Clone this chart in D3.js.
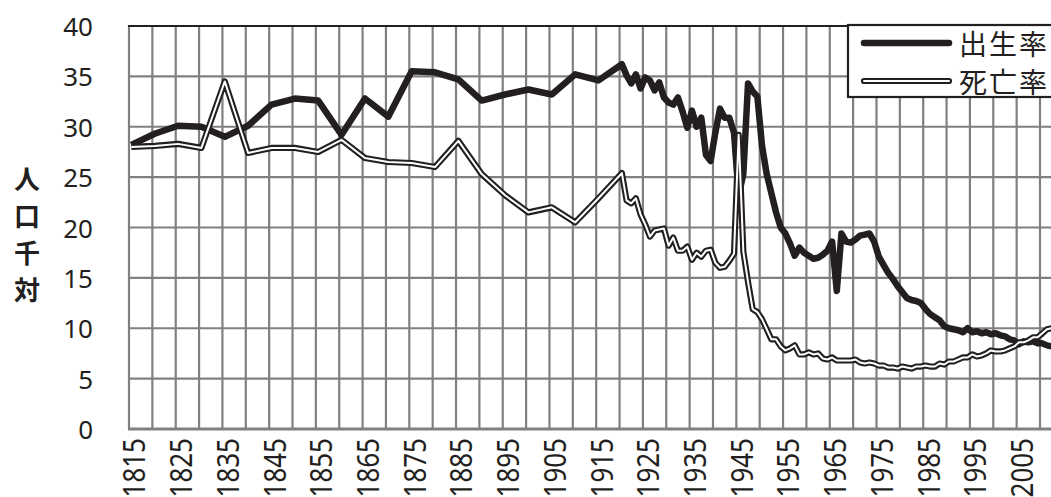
<!DOCTYPE html>
<html><head><meta charset="utf-8">
<script src="https://cdn.jsdelivr.net/npm/d3@7"></script>
<style>body{margin:0;background:#fff} svg{display:block}</style>
</head><body><svg id="c" width="1051" height="497"></svg>
<script>
// ---- data ----
const years5 = [1815,1820,1825,1830,1835,1840,1845,1850,1855,1860,1865,1870,1875,1880,1885,1890,1895,1900,1905,1910,1915];
const birth5 = [28.2,29.3,30.1,30.0,29.0,30.1,32.2,32.8,32.6,29.2,32.8,31.0,35.5,35.4,34.7,32.6,33.2,33.7,33.2,35.2,34.6];
const death5 = [28.0,28.1,28.3,27.9,34.5,27.4,27.9,27.9,27.5,28.7,26.9,26.5,26.4,26.0,28.6,25.3,23.2,21.5,22.0,20.5,22.9];
const yearsAnnual = d3.range(1920, 2013);
const birthAnnual = [
 36.2,35.1,34.3,35.2,33.8,34.9,34.6,33.6,34.4,32.9,
 32.4,32.2,32.9,31.5,29.9,31.6,30.0,30.9,27.2,26.6,
 29.4,31.8,30.9,30.9,29.4,23.2,25.3,34.3,33.5,33.0,
 28.1,25.3,23.4,21.5,20.0,19.4,18.4,17.2,18.0,17.5,
 17.2,16.9,17.0,17.3,17.7,18.6,13.7,19.4,18.6,18.5,
 18.8,19.2,19.3,19.4,18.6,17.1,16.3,15.5,14.9,14.2,
 13.6,13.0,12.8,12.7,12.5,11.9,11.4,11.1,10.8,10.2,
 10.0,9.9,9.8,9.6,10.0,9.6,9.7,9.5,9.6,9.4,
 9.5,9.3,9.2,8.9,8.8,8.4,8.7,8.6,8.7,8.5,
 8.5,8.3,8.2];
const deathAnnual = [
 25.4,22.7,22.4,22.9,21.3,20.3,19.1,19.7,19.8,19.9,
 18.2,19.0,17.7,17.7,18.1,16.8,17.5,17.1,17.7,17.8,
 16.5,16.0,16.1,16.7,17.4,29.2,17.6,14.6,11.9,11.6,
 10.9,9.9,8.9,8.9,8.2,7.8,8.0,8.3,7.4,7.4,
 7.6,7.4,7.5,7.0,6.9,7.1,6.8,6.8,6.8,6.8,
 6.9,6.6,6.5,6.6,6.5,6.3,6.3,6.1,6.1,6.0,
 6.2,6.1,6.0,6.2,6.2,6.3,6.2,6.2,6.5,6.4,
 6.7,6.7,6.9,7.1,7.1,7.4,7.2,7.3,7.5,7.8,
 7.7,7.7,7.8,8.0,8.2,8.6,8.6,8.8,9.1,9.1,
 9.5,9.9,10.0];
const yTicks = [0,5,10,15,20,25,30,35,40];
const xLabelYears = d3.range(1815, 2006, 10);
const gridYears = d3.range(1815, 2011, 5);
const seriesNames = ["出生率","死亡率"];
const yTitleChars = ["人","口","千","対"];

// ---- build ----
const birth = years5.map((yr,i)=>({yr, v:birth5[i]})).concat(yearsAnnual.map((yr,i)=>({yr, v:birthAnnual[i]})));
const death = years5.map((yr,i)=>({yr, v:death5[i]})).concat(yearsAnnual.map((yr,i)=>({yr, v:deathAnnual[i]})));

const svg = d3.select("#c");
const x = d3.scaleLinear().domain([1814.5, 2009.5]).range([129, 1040]);
const y = d3.scaleLinear().domain([0, 40]).range([429, 26]);
const X0 = 129, X1 = 1051;
const ink = "#231f20", grid = "#808080";
const font = "'Noto Sans','Noto Sans CJK JP',sans-serif";

// vertical gridlines
svg.append("g").selectAll("line").data(gridYears).join("line")
  .attr("x1", d=>x(d-0.5)).attr("x2", d=>x(d-0.5))
  .attr("y1", y(40)).attr("y2", y(0))
  .attr("stroke", grid).attr("stroke-width", 2.2);
// horizontal gridlines
svg.append("g").selectAll("line").data(yTicks.filter(v=>v>0 && v<40)).join("line")
  .attr("x1", X0).attr("x2", X1).attr("y1", d=>y(d)).attr("y2", d=>y(d))
  .attr("stroke", grid).attr("stroke-width", 2.2);
// bottom axis
svg.append("line").attr("x1", X0-1).attr("x2", X1).attr("y1", y(0)).attr("y2", y(0))
  .attr("stroke", grid).attr("stroke-width", 3);
// top border
svg.append("line").attr("x1", X0-1).attr("x2", X1).attr("y1", y(40)).attr("y2", y(40))
  .attr("stroke", ink).attr("stroke-width", 2.2);

// y tick labels
svg.append("g").selectAll("text").data(yTicks).join("text")
  .attr("x", 93).attr("y", d=>y(d)).attr("text-anchor","end")
  .attr("dominant-baseline","central")
  .attr("font-family", font).attr("font-size", 26).attr("fill", ink)
  .text(d=>d);

// x tick labels
svg.append("g").selectAll("text").data(xLabelYears).join("text")
  .attr("transform", d=>`translate(${x(d)+1.5},438) rotate(-90) scale(1,1.22)`)
  .attr("text-anchor","end").attr("dominant-baseline","central")
  .attr("font-family", font).attr("font-size", 26).attr("fill", ink)
  .text(d=>d);

// y title
svg.append("g").selectAll("text").data(yTitleChars).join("text")
  .attr("x", 27).attr("y", (d,i)=>177 + i*37)
  .attr("text-anchor","middle").attr("dominant-baseline","central")
  .attr("font-family","'Noto Sans CJK JP',sans-serif").attr("font-weight","bold")
  .attr("font-size", 26).attr("fill", ink)
  .text(d=>d);

// lines
const line = d3.line().x(d=>x(d.yr)).y(d=>y(d.v));
svg.append("path").datum(birth).attr("d", line).attr("fill","none")
  .attr("stroke", ink).attr("stroke-width", 6.5).attr("stroke-linejoin","round");
svg.append("path").datum(death).attr("d", line).attr("fill","none")
  .attr("stroke", ink).attr("stroke-width", 6.2).attr("stroke-linejoin","round");
svg.append("path").datum(death).attr("d", line).attr("fill","none")
  .attr("stroke", "#fff").attr("stroke-width", 2).attr("stroke-linejoin","round");

// legend
const lg = svg.append("g");
lg.append("rect").attr("x", 848).attr("y", 25).attr("width", 220).attr("height", 72)
  .attr("fill","#fff").attr("stroke", ink).attr("stroke-width", 2.2);
const ly = [43, 81];
lg.append("line").attr("x1", 864).attr("x2", 949).attr("y1", ly[0]).attr("y2", ly[0])
  .attr("stroke", ink).attr("stroke-width", 6.5).attr("stroke-linecap","round");
lg.append("line").attr("x1", 864).attr("x2", 949).attr("y1", ly[1]).attr("y2", ly[1])
  .attr("stroke", ink).attr("stroke-width", 6.2).attr("stroke-linecap","round");
lg.append("line").attr("x1", 864).attr("x2", 949).attr("y1", ly[1]).attr("y2", ly[1])
  .attr("stroke", "#fff").attr("stroke-width", 2).attr("stroke-linecap","round");
lg.selectAll("text").data(seriesNames).join("text")
  .attr("x", 959).attr("y", (d,i)=>ly[i]).attr("dominant-baseline","central")
  .attr("font-family","'Noto Sans CJK JP',sans-serif").attr("font-size", 28)
  .attr("letter-spacing", 2).attr("fill", ink)
  .text(d=>d);
</script></body></html>
